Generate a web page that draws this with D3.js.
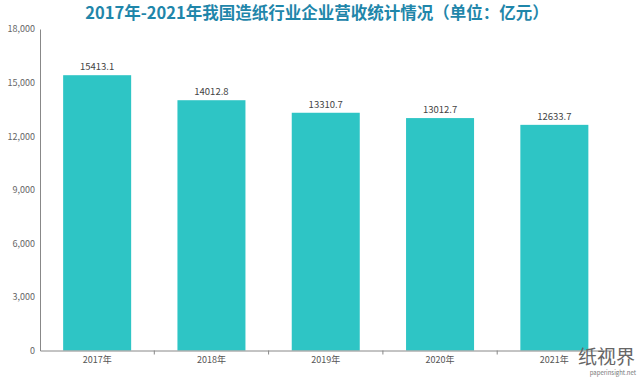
<!DOCTYPE html>
<html lang="zh">
<head>
<meta charset="UTF-8">
<title>造纸行业企业营收</title>
<script src="https://d3js.org/d3.v7.min.js"></script>
<style>
  body { margin: 0; background: #fff; }
  text { font-family: "Noto Sans CJK SC", "Noto Sans", sans-serif; }
</style>
</head>
<body>
<svg id="chart" width="640" height="378"></svg>
<script>
const years = ["2017年", "2018年", "2019年", "2020年", "2021年"];
const revenue = [15413.1, 14012.8, 13310.7, 13012.7, 12633.7];
const yTicks = [0, 3000, 6000, 9000, 12000, 15000, 18000];

const svg = d3.select("#chart");
const mLeft = 40, mRight = 611.5, mTop = 29, mBottom = 350.5;

svg.append("text")
  .attr("x", 317).attr("y", 19)
  .attr("text-anchor", "middle")
  .attr("font-size", 16.5).attr("font-weight", "bold")
  .attr("fill", "#1f86aa")
  .text("2017年-2021年我国造纸行业企业营收统计情况（单位：亿元）");

const x = d3.scaleBand().domain(years).range([mLeft, mRight])
  .paddingInner(0.405).paddingOuter(0.2025);
const y = d3.scaleLinear().domain([0, 18000]).range([mBottom, mTop]);

// bars
svg.selectAll(".bar")
  .data(revenue)
  .join("rect")
  .attr("class", "bar")
  .attr("x", (d, i) => x(years[i]))
  .attr("y", d => y(d))
  .attr("width", x.bandwidth())
  .attr("height", d => y(0) - y(d))
  .attr("fill", "#2ec5c5");

svg.selectAll(".val")
  .data(revenue)
  .join("text")
  .attr("class", "val")
  .attr("x", (d, i) => x(years[i]) + x.bandwidth() / 2)
  .attr("y", d => y(d) - 5)
  .attr("text-anchor", "middle")
  .attr("font-size", 9.5).attr("fill", "#444")
  .text(d => d.toFixed(1));

// y axis
const yAxis = svg.append("g")
  .attr("transform", `translate(${mLeft},0)`)
  .call(d3.axisLeft(y).tickValues(yTicks).tickSize(0).tickPadding(5)
    .tickFormat(d3.format(",")));
yAxis.select(".domain").attr("stroke", "#888");
yAxis.selectAll("text").attr("font-size", 9).attr("fill", "#666");

// x axis
const xAxis = svg.append("g")
  .attr("transform", `translate(0,${mBottom})`)
  .call(d3.axisBottom(x).tickSize(0).tickPadding(6));
xAxis.select(".domain").attr("stroke", "#888");
xAxis.selectAll("text").attr("font-size", 9).attr("fill", "#555");
xAxis.selectAll(".sep")
  .data(years.slice(1))
  .join("line")
  .attr("class", "sep")
  .attr("x1", d => x(d) - x.step() * x.paddingInner() / 2)
  .attr("x2", d => x(d) - x.step() * x.paddingInner() / 2)
  .attr("y1", 0).attr("y2", 4)
  .attr("stroke", "#888");

// logo mark
svg.append("text")
  .attr("x", 578).attr("y", 364)
  .attr("font-size", 19).attr("fill", "#666")
  .text("纸视界");
svg.append("text")
  .attr("x", 636).attr("y", 375)
  .attr("text-anchor", "end")
  .attr("font-size", 6).attr("fill", "#777")
  .text("paperinsight.net");
</script>
</body>
</html>
